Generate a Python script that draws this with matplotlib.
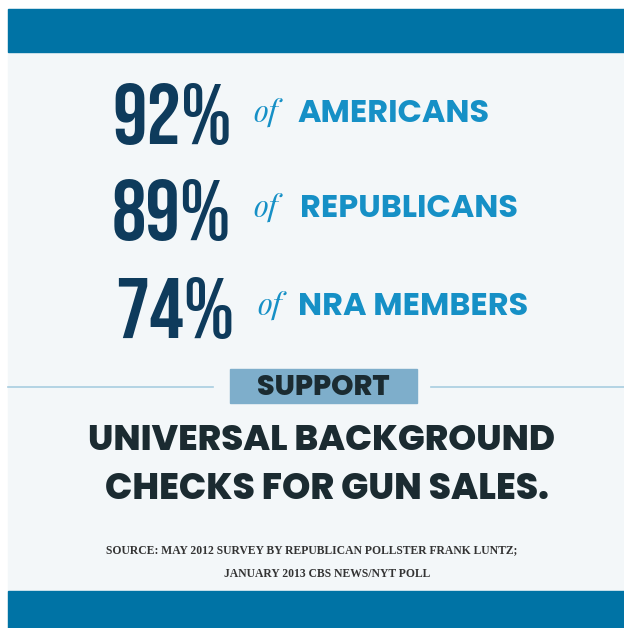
import matplotlib
matplotlib.use("Agg")
import matplotlib.pyplot as plt
from matplotlib.patches import Rectangle

# chart data
shares = ["92%", "89%", "74%"]
groups = ["AMERICANS", "REPUBLICANS", "NRA MEMBERS"]
verb = "SUPPORT"
claim = ["UNIVERSAL BACKGROUND", "CHECKS FOR GUN SALES."]
source = ["SOURCE: MAY 2012 SURVEY BY REPUBLICAN POLLSTER FRANK LUNTZ;",
          "JANUARY 2013 CBS NEWS/NYT POLL"]

W, H = 624, 628
bar_blue = "#0073a5"
navy = "#0e3b5c"
sky = "#1690c6"
box_blue = "#7eaecb"
ink = "#1b2b31"
rule = "#a8cde0"
paper = "#f3f7f9"

geo = "Poppins"
cond = "Bebas Neue"

fig = plt.figure(figsize=(W / 100, H / 100), dpi=100)
fig.patch.set_facecolor("white")
ax = fig.add_axes([0, 0, 1, 1])
ax.set_xlim(0, W)
ax.set_ylim(H, 0)
ax.axis("off")

# paper, top and bottom bands
ax.add_patch(Rectangle((8, 9), W - 8, H - 9, color=paper, zorder=0))
ax.add_patch(Rectangle((8, 9), W - 8, 43, color=bar_blue, zorder=1))
ax.add_patch(Rectangle((8, 591), W - 8, H - 591, color=bar_blue, zorder=1))

num_x = [112, 112, 115]
of_x = [253, 253, 257]
grp_x = [297, 300, 298]
num_y = [144, 240, 338]
grp_y = [122, 217, 315]
for i, (s, g) in enumerate(zip(shares, groups)):
    ax.text(num_x[i], num_y[i], s, family=cond, fontsize=62,
            color=navy, va="baseline", ha="left")
    ax.text(of_x[i], grp_y[i], "of", family="Playfair Display", style="italic",
            fontsize=22, color=sky, va="baseline", ha="left")
    ax.text(grp_x[i], grp_y[i], g, family=geo, weight=700, fontsize=23,
            color=sky, va="baseline", ha="left")

# support label with rules
ax.plot([8, 213], [387, 387], color=rule, lw=1.2, zorder=2)
ax.plot([431, W], [387, 387], color=rule, lw=1.2, zorder=2)
ax.add_patch(Rectangle((230, 369), 187, 34, color=box_blue, zorder=2))
ax.text(323, 395, verb, family=geo, weight=800, fontsize=20.5,
        color=ink, va="baseline", ha="center", zorder=3)

ax.text(322, 450, claim[0], family=geo, weight=800, fontsize=25.6,
        color=ink, va="baseline", ha="center")
ax.text(327, 499, claim[1], family=geo, weight=800, fontsize=26,
        color=ink, va="baseline", ha="center")

ax.text(312, 553, source[0], family="Liberation Serif", weight="bold", fontsize=8.4,
        color="#333333", va="baseline", ha="center")
ax.text(327, 577, source[1], family="Liberation Serif", weight="bold", fontsize=8.4,
        color="#333333", va="baseline", ha="center")

fig.savefig("out.png", dpi=100, facecolor=fig.get_facecolor())
